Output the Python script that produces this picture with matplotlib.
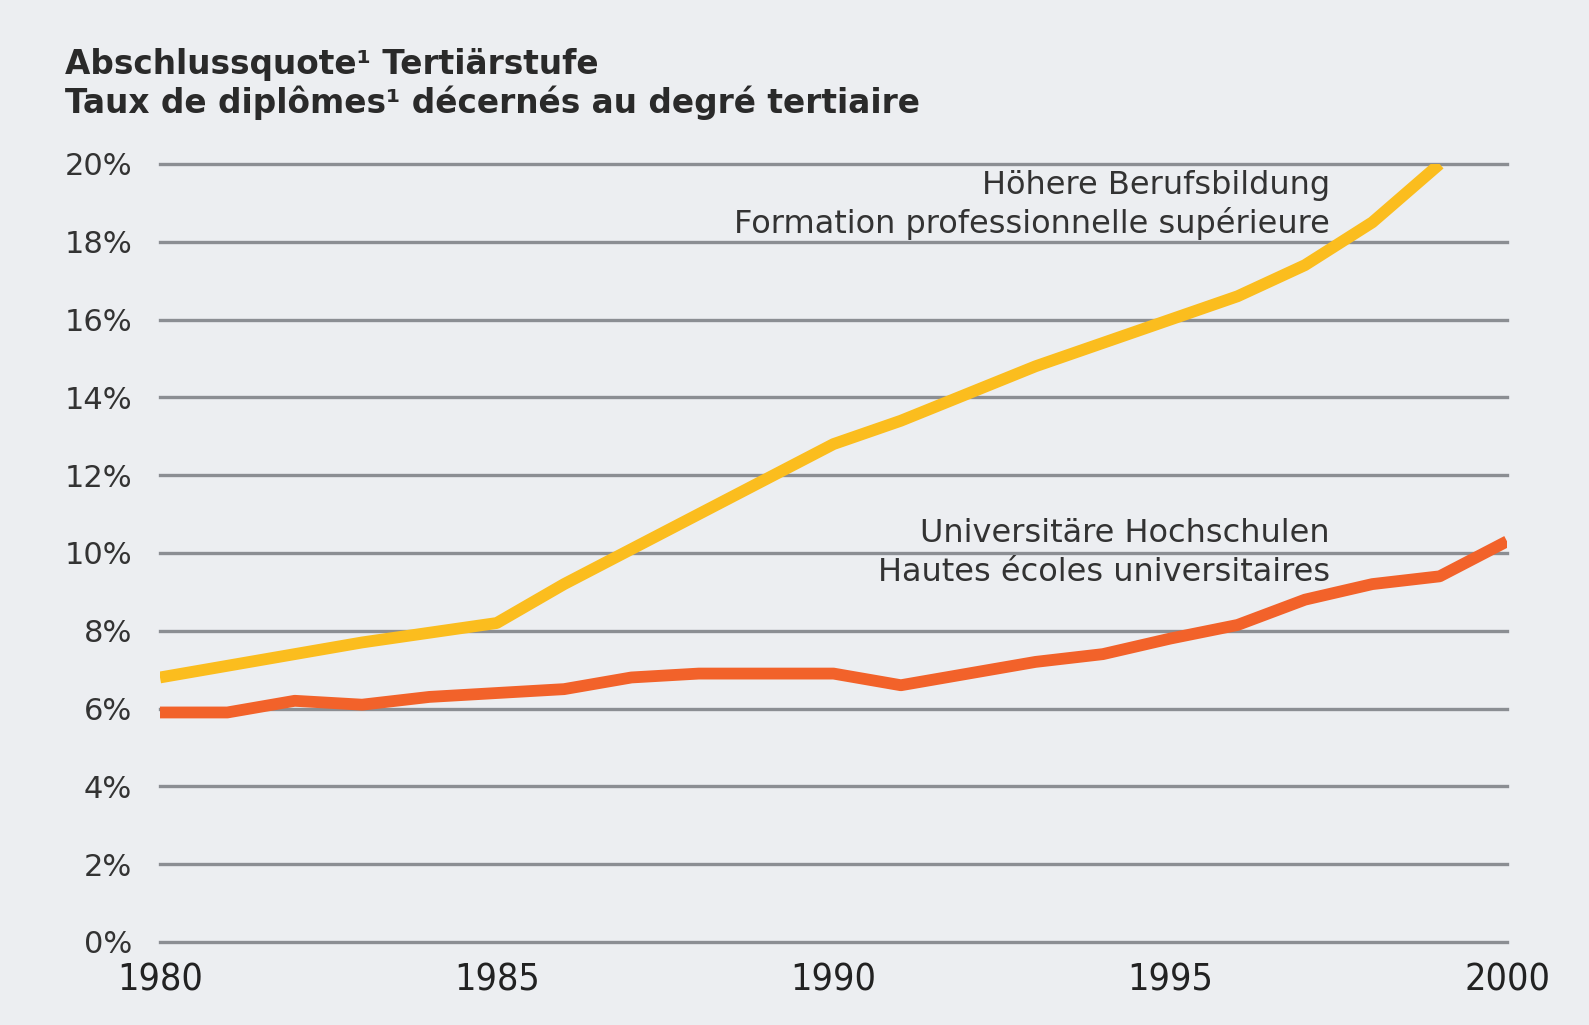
import matplotlib.pyplot as plt
from matplotlib.ticker import FixedLocator

years_hbb = [1980, 1981, 1982, 1983, 1984, 1985, 1986, 1987, 1988, 1989,
             1990, 1991, 1992, 1993, 1994, 1995, 1996, 1997, 1998, 1999]
hbb = [6.8, 7.1, 7.4, 7.7, 7.95, 8.2, 9.2, 10.1, 11.0, 11.9,
       12.8, 13.4, 14.1, 14.8, 15.4, 16.0, 16.6, 17.4, 18.5, 20.0]

years_uh = list(range(1980, 2001))
uh = [5.9, 5.9, 6.2, 6.1, 6.3, 6.4, 6.5, 6.8, 6.9, 6.9,
      6.9, 6.6, 6.9, 7.2, 7.4, 7.8, 8.15, 8.8, 9.2, 9.4, 10.3]

y_ticks = [0, 2, 4, 6, 8, 10, 12, 14, 16, 18, 20]
x_ticks = [1980, 1985, 1990, 1995, 2000]

bg = '#eceef1'
c_hbb = '#fbbd1e'
c_uh = '#f2622a'
grid_c = '#8b8e93'

fig = plt.figure(figsize=(15.89, 10.25), dpi=100, facecolor=bg)
ax = fig.add_axes([0.1007, 0.081, 0.8477, 0.759], facecolor=bg)

for y in y_ticks:
    ax.axhline(y, color=grid_c, lw=2.4, zorder=1, clip_on=False)

ax.plot(years_hbb, hbb, color=c_hbb, lw=8.5, solid_capstyle='butt', zorder=3)
ax.plot(years_uh, uh, color=c_uh, lw=8.5, solid_capstyle='butt', zorder=3)

ax.set_xlim(1980, 2000)
ax.set_ylim(0, 20)
ax.yaxis.set_major_locator(FixedLocator(y_ticks))
ax.xaxis.set_major_locator(FixedLocator(x_ticks))
ax.set_yticklabels([f'{v}%' for v in y_ticks], fontsize=22, color='#333333',
                   family='DejaVu Sans')
ax.set_xticklabels([str(v) for v in x_ticks], fontsize=27, color='#222222',
                   family='DejaVu Sans', fontstretch='condensed')
ax.tick_params(axis='y', length=0, pad=20)
ax.tick_params(axis='x', length=0, pad=15)
for s in ax.spines.values():
    s.set_visible(False)

# line labels
lab_x = 1997.37
ax.text(lab_x, 19.45, 'Höhere Berufsbildung', ha='right', va='center',
        fontsize=23, color='#333333')
ax.text(lab_x, 18.47, 'Formation professionnelle supérieure', ha='right',
        va='center', fontsize=23, color='#333333')
ax.text(lab_x, 10.5, 'Universitäre Hochschulen', ha='right', va='center',
        fontsize=23, color='#333333')
ax.text(lab_x, 9.5, 'Hautes écoles universitaires', ha='right', va='center',
        fontsize=23, color='#333333')

# title
fig.text(0.041, 0.937, 'Abschlussquote¹ Tertiärstufe', ha='left', va='center',
         fontsize=23.6, fontweight='bold', color='#2a2a2a')
fig.text(0.041, 0.900, 'Taux de diplômes¹ décernés au degré tertiaire',
         ha='left', va='center', fontsize=23.6, fontweight='bold',
         color='#2a2a2a')

plt.savefig('out.png', dpi=100, facecolor=bg)
